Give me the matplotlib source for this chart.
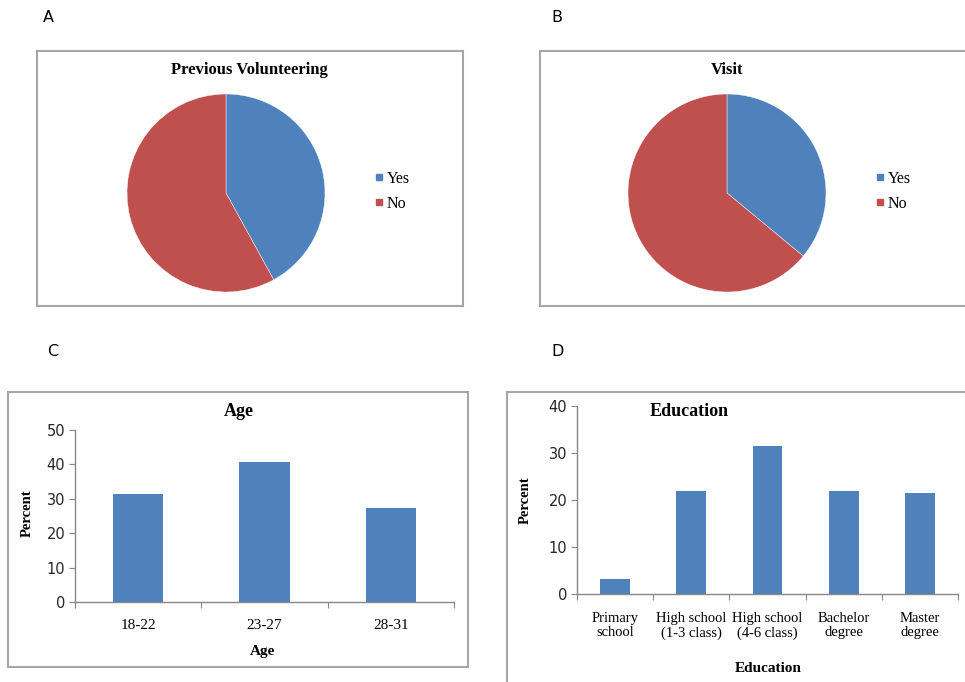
# -*- coding: utf-8 -*-
import matplotlib
matplotlib.use("Agg")
import matplotlib.pyplot as plt
from matplotlib.patches import Rectangle
from matplotlib.lines import Line2D

W, H = 965, 682

pie_labels = ["Yes", "No"]
volunteering = [42, 58]
visit = [36, 64]

age_groups = ["18-22", "23-27", "28-31"]
age_percent = [31.4, 40.8, 27.4]
age_yticks = [0, 10, 20, 30, 40, 50]

edu_groups = ["Primary\nschool", "High school\n(1-3 class)", "High school\n(4-6 class)",
              "Bachelor\ndegree", "Master\ndegree"]
edu_percent = [3.1, 21.9, 31.4, 21.9, 21.5]
edu_yticks = [0, 10, 20, 30, 40]

BLUE = "#4f81bd"
RED = "#c0504d"
FRAME = "#a6a6a6"
AXIS = "#868686"
SERIF = "Liberation Serif"
SANS = "DejaVu Sans"


def px_axes(fig, x0, y0, x1, y1):
    # pixel box (top-left origin) -> figure axes
    return fig.add_axes([x0 / W, 1 - y1 / H, (x1 - x0) / W, (y1 - y0) / H])


def frame(fig, x0, y0, x1, y1):
    fig.patches.append(Rectangle((x0 / W, 1 - y1 / H), (x1 - x0) / W, (y1 - y0) / H,
                                 transform=fig.transFigure, fill=False,
                                 edgecolor=FRAME, linewidth=1.5))


def pie_panel(fig, values, title, cx, cy, r, title_xy, leg_xy):
    ax = px_axes(fig, cx - r, cy - r, cx + r, cy + r)
    ax.pie(values, colors=[BLUE, RED], startangle=90, counterclock=False,
           wedgeprops=dict(edgecolor="white", linewidth=0.3))
    ax.set_xlim(-1, 1)
    ax.set_ylim(-1, 1)
    ax.set_aspect("equal")
    fig.text(title_xy[0] / W, 1 - title_xy[1] / H, title, ha="center", va="center",
             family=SERIF, fontweight="bold", fontsize=12)
    handles = [Line2D([], [], marker="s", linestyle="", color=c, markersize=5)
               for c in [BLUE, RED]]
    fig.legend(handles, pie_labels, loc="upper left",
               bbox_to_anchor=(leg_xy[0] / W, 1 - leg_xy[1] / H),
               frameon=False, prop=dict(family=SERIF, size=11.5),
               handlelength=0.6, handletextpad=0.2, labelspacing=0.55,
               borderpad=0, borderaxespad=0)


def bar_panel(fig, ax, cats, values, yticks, bar_w, cat_size, pad):
    n = len(cats)
    ax.bar(range(n), values, width=bar_w, color=BLUE, zorder=2)
    ax.set_xlim(-0.5, n - 0.5)
    ax.set_ylim(yticks[0], yticks[-1])
    ax.set_yticks(yticks)
    ax.set_xticks([i - 0.5 for i in range(n + 1)])
    ax.set_xticklabels([])
    ax.set_xticks(range(n), minor=True)
    ax.set_xticklabels(cats, minor=True, family=SERIF, fontsize=cat_size,
                       linespacing=1.1)
    ax.tick_params(axis="x", which="minor", length=0, pad=pad)
    ax.tick_params(axis="x", which="major", length=4, color=AXIS, direction="out")
    ax.tick_params(axis="y", length=4, color=AXIS, direction="out", pad=3,
                   labelsize=10.5)
    for t in ax.get_yticklabels():
        t.set_family(SANS)
        t.set_color("#262626")
    for s in ["top", "right"]:
        ax.spines[s].set_visible(False)
    for s in ["left", "bottom"]:
        ax.spines[s].set_color(AXIS)
        ax.spines[s].set_linewidth(1.0)


fig = plt.figure(figsize=(W / 100, H / 100), dpi=100)

# panel letters
for letter, x, y in [("A", 48, 18), ("B", 557, 18), ("C", 53, 352), ("D", 558, 352)]:
    fig.text(x / W, 1 - y / H, letter, ha="center", va="center", family=SANS, fontsize=11.5)

# panel frames
frame(fig, 37, 51, 463, 306)
frame(fig, 540, 51, 966, 306)
frame(fig, 8, 392, 468, 667)
frame(fig, 507, 392, 966, 690)

# A and B: pies
pie_panel(fig, volunteering, "Previous Volunteering", 226, 193, 99, (249, 70), (374, 171))
pie_panel(fig, visit, "Visit", 727, 193, 99, (727, 70), (875, 171))

# C: age
axC = px_axes(fig, 75, 430, 454, 602)
bar_panel(fig, axC, age_groups, age_percent, age_yticks, 0.4, 11, 12)
fig.text(239 / W, 1 - 412 / H, "Age", ha="center", va="center",
         family=SERIF, fontweight="bold", fontsize=13)
fig.text(263 / W, 1 - 651 / H, "Age", ha="center", va="center",
         family=SERIF, fontweight="bold", fontsize=11)
fig.text(27 / W, 1 - 513 / H, "Percent", ha="center", va="center", rotation=90,
         family=SERIF, fontweight="bold", fontsize=10.5)

# D: education
axD = px_axes(fig, 577, 406, 958, 594)
bar_panel(fig, axD, edu_groups, edu_percent, edu_yticks, 0.39, 10.5, 13)
fig.text(689 / W, 1 - 412 / H, "Education", ha="center", va="center",
         family=SERIF, fontweight="bold", fontsize=13)
fig.text(768 / W, 1 - 669 / H, "Education", ha="center", va="center",
         family=SERIF, fontweight="bold", fontsize=11)
fig.text(525 / W, 1 - 500 / H, "Percent", ha="center", va="center", rotation=90,
         family=SERIF, fontweight="bold", fontsize=10.5)

fig.savefig("out.png", dpi=100, facecolor="white")
